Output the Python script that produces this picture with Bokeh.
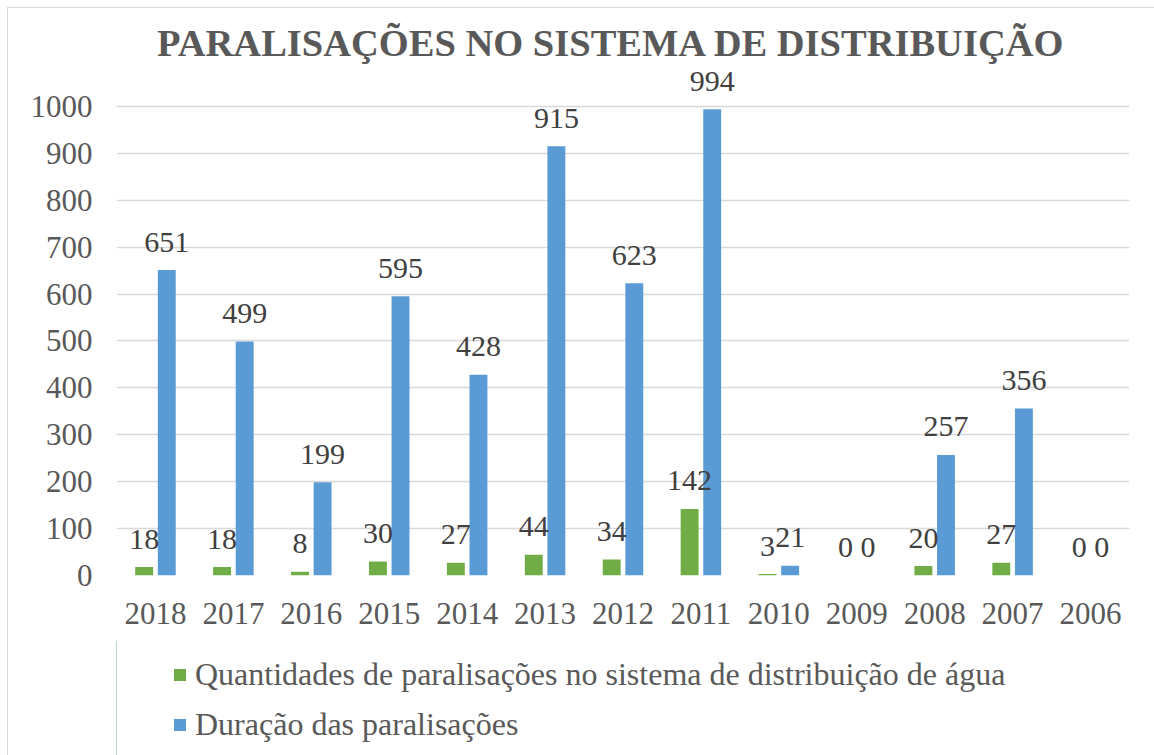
from bokeh.plotting import figure
from bokeh.layouts import column
from bokeh.models import ColumnDataSource, FactorRange, Range1d, FixedTicker, Legend, LegendItem
from bokeh.transform import dodge
from bokeh.core.properties import value
from bokeh.embed import file_html
from bokeh.resources import INLINE

years = ["2018", "2017", "2016", "2015", "2014", "2013", "2012", "2011", "2010", "2009", "2008", "2007", "2006"]
quantidades = [18, 18, 8, 30, 27, 44, 34, 142, 3, 0, 20, 27, 0]
duracao = [651, 499, 199, 595, 428, 915, 623, 994, 21, 0, 257, 356, 0]
y_ticks = [0, 100, 200, 300, 400, 500, 600, 700, 800, 900, 1000]
title_text = "PARALISAÇÕES NO SISTEMA DE DISTRIBUIÇÃO"
serie1_name = "Quantidades de paralisações no sistema de distribuição de água"
serie2_name = "Duração das paralisações"

GREEN = "#70ad47"
BLUE = "#5b9bd5"
GRAY = "#595959"
FONT = "Liberation Serif"
LINE = "#d9d9d9"

source = ColumnDataSource(dict(
    year=years,
    qtd=quantidades,
    dur=duracao,
    qtd_txt=[str(v) for v in quantidades],
    dur_txt=[str(v) for v in duracao],
))

p = figure(
    width=1154, height=640,
    x_range=FactorRange(*years, range_padding=0),
    y_range=Range1d(0, 1200),
    output_backend="svg", toolbar_location=None,
    min_border_left=116, min_border_right=25,
    min_border_top=12, min_border_bottom=65,
)
p.styles = {
    "background": f"linear-gradient({LINE},{LINE}) 7px 7px / 1px 100% no-repeat, "
                  f"linear-gradient({LINE},{LINE}) 7px 7px / 100% 1px no-repeat, white"
}
p.outline_line_color = None
p.background_fill_color = "white"
p.border_fill_alpha = 0

r1 = p.vbar(x=dodge("year", -0.145, range=p.x_range), top="qtd", width=0.23,
            fill_color=GREEN, line_color=None, source=source)
r2 = p.vbar(x=dodge("year", 0.145, range=p.x_range), top="dur", width=0.23,
            fill_color=BLUE, line_color=None, source=source)

lbl_kw = dict(text_align="center", text_baseline="alphabetic", y_offset=-28,
              text_font=value(FONT), text_font_size="30px", text_color="#404040",
              source=source)
p.text(x=dodge("year", -0.145, range=p.x_range), y="qtd", text="qtd_txt", **lbl_kw)
p.text(x=dodge("year", 0.145, range=p.x_range), y="dur", text="dur_txt", **lbl_kw)

# chart title
p.text(x=[6.35], y=[1136], text=[title_text], text_align="center", text_baseline="alphabetic",
       text_font=value(FONT), text_font_size="38.5px", text_font_style="bold", text_color=GRAY)

# axes
p.yaxis.ticker = FixedTicker(ticks=y_ticks)
p.yaxis.axis_line_color = None
p.yaxis.major_tick_line_color = None
p.yaxis.minor_tick_line_color = None
p.yaxis.major_label_standoff = 18
p.yaxis.major_label_text_font = FONT
p.yaxis.major_label_text_font_size = "31px"
p.yaxis.major_label_text_color = GRAY

p.xaxis.axis_line_color = None
p.xaxis.major_tick_line_color = None
p.xaxis.minor_tick_line_color = None
p.xaxis.major_label_standoff = 21
p.xaxis.major_label_text_font = FONT
p.xaxis.major_label_text_font_size = "31px"
p.xaxis.major_label_text_color = GRAY

p.xgrid.grid_line_color = None
p.ygrid.grid_line_color = LINE
p.ygrid.grid_line_width = 1.5

# legend panel (separate figure below the chart, same side borders so frames line up)
pl = figure(
    width=1154, height=115,
    x_range=Range1d(0, 1), y_range=Range1d(0, 1),
    output_backend="svg", toolbar_location=None,
    min_border_left=116, min_border_right=25, min_border_top=0, min_border_bottom=0,
)
pl.styles = {
    "background": f"linear-gradient({LINE},{LINE}) 7px 0px / 1px 100% no-repeat, white"
}
pl.axis.visible = False
pl.grid.visible = False
pl.outline_line_color = None
pl.background_fill_alpha = 0
pl.border_fill_alpha = 0
# legend swatches only (placed outside the visible range)
g1 = pl.vbar(x=[-10], top=[1], width=0.1, fill_color=GREEN, line_color=None)
g2 = pl.vbar(x=[-10], top=[1], width=0.1, fill_color=BLUE, line_color=None)

legend = Legend(items=[LegendItem(label=serie1_name, renderers=[g1]),
                       LegendItem(label=serie2_name, renderers=[g2])],
                location=(56, 12), orientation="vertical",
                glyph_width=15, glyph_height=15, label_standoff=8, spacing=13,
                padding=0, margin=0, border_line_color=None, background_fill_alpha=0,
                label_text_font=FONT, label_text_font_size="32px", label_text_color=GRAY)
pl.add_layout(legend, "center")

layout = column(p, pl, spacing=0)
open("out.html", "w").write(file_html(layout, INLINE))
